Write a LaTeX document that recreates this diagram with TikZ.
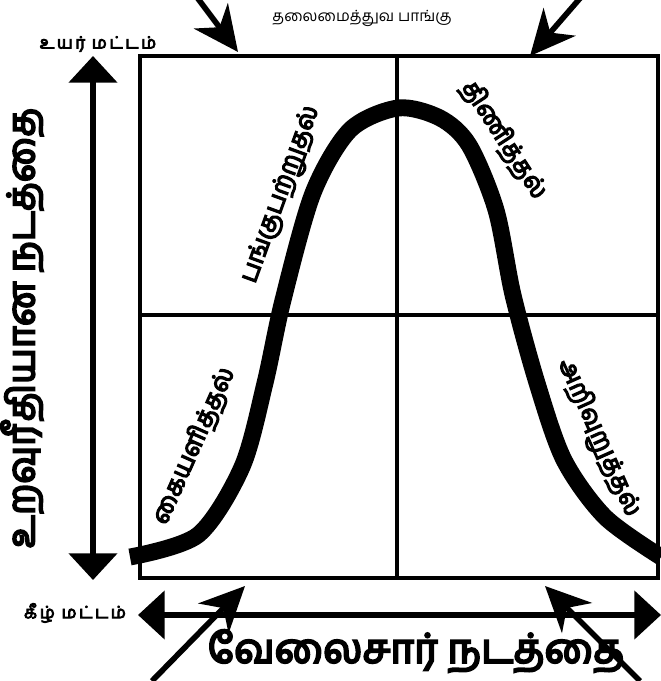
\documentclass[tikz,border=0pt]{standalone}
\usepackage{fontspec}
\newfontfamily\tamil[Script=Tamil]{Hind Madurai}
\newfontfamily\tamilbf[Script=Tamil,FakeBold=5]{Hind Madurai}
\usetikzlibrary{arrows.meta,positioning}

\begin{document}
\begin{tikzpicture}[
  x=0.025cm, y=-0.025cm,
  font=\tamil,
  boxline/.style={line width=3.5pt},
  bell/.style={line width=12pt},
  axisarrow/.style={line width=4pt, {Triangle[width=34pt,length=19pt]}-{Triangle[width=34pt,length=19pt]}},
  cornerarrow/.style={line width=4pt, -{Stealth[length=32pt,width=30pt,inset=10pt]}},
  levelstyle/.style={font=\tamilbf\fontsize{12}{14}\selectfont\addfontfeature{LetterSpace=15}, inner sep=1pt},
  phasestyle/.style={font=\tamilbf\fontsize{18}{22}\selectfont, inner sep=0pt},
  axistext/.style={font=\tamilbf\fontsize{27}{30}\selectfont, inner sep=0pt},
]
\useasboundingbox (0,0) rectangle (661,681);

% --- the grid box with its four quarters ---
\def\bl{140}
\def\br{658}
\def\bt{56}
\def\bb{578}
\draw[boxline] (\bl,\bt) rectangle (\br,\bb);
\draw[boxline] (397,\bt) -- (397,\bb);
\draw[boxline] (\bl,315) -- (\br,315);

% --- the bell curve ---
\draw[bell] plot[smooth, tension=0.5] coordinates {
  (130,557) (198,535) (242,467) (265,383) (283,300) (313,193) (350,130)
  (398,108) (440,118) (469,145) (496,210) (513,295) (537,383) (564,460)
  (605,517) (661,557)};

% --- the four styles along the curve ---
\node[phasestyle, rotate=70] (particip) at (282,195) {பங்குபற்றுதல்};
\node[phasestyle, rotate=-57] (impose) at (504,140) {திணித்தல்};
\node[phasestyle, rotate=66] (delegate) at (194,446) {கையளித்தல்};
\node[phasestyle, rotate=-66] (instruct) at (598,438) {அறிவுறுத்தல்};

% --- vertical axis: relationship behaviour ---
\node[levelstyle] (high) at (98,44) {உயர் மட்டம்};
\node[levelstyle] (low) at (75,613) {கீழ் மட்டம்};
\coordinate (ytop) at (93,56);
\coordinate (ybot) at (93,580);
\draw[axisarrow] (ytop) -- (ybot);
\node[axistext, rotate=90] (relbeh) at (22,328) {உறவுரீதியான நடத்தை};

% --- horizontal axis: task behaviour ---
\coordinate (xleft) at (138,615);
\coordinate (xright) at (661,615);
\draw[axisarrow] (xleft) -- (xright);
\node[axistext, font=\tamilbf\fontsize{29}{32}\selectfont] (taskbeh) at (416,651) {வேலைசார் நடத்தை};

% --- title and the corner arrows ---
\node[font=\tamil\fontsize{11}{13}\selectfont] (title) at (362,18) {தலைமைத்துவ பாங்கு};
\coordinate (tl0) at (196,-4);
\coordinate (tl1) at (238,52);
\coordinate (tr0) at (582,-4);
\coordinate (tr1) at (530,56);
\coordinate (bl0) at (152,681);
\coordinate (bl1) at (245,586);
\coordinate (br0) at (640,681);
\coordinate (br1) at (545,586);
\draw[cornerarrow] (tl0) -- (tl1);
\draw[cornerarrow] (tr0) -- (tr1);
\draw[cornerarrow] (bl0) -- (bl1);
\draw[cornerarrow] (br0) -- (br1);

\end{tikzpicture}
\end{document}
